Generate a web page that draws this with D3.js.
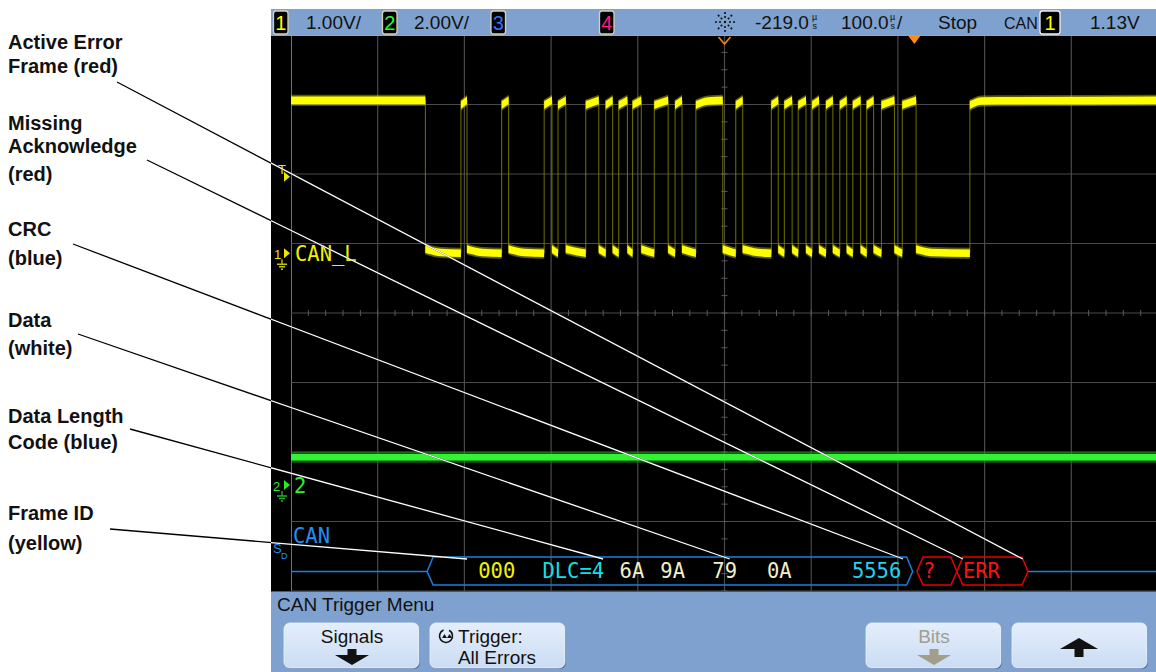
<!DOCTYPE html>
<html><head><meta charset="utf-8">
<script src="https://cdn.jsdelivr.net/npm/d3@7"></script>
<style>
html,body{margin:0;padding:0;background:#fff;}
svg{display:block;}
</style></head><body>
<svg id="c" width="1156" height="672"></svg>
<script>
// ================= DATA =================
const timeDomain = [-719, 281];          // µs (100 µs/div, delay -219 µs)
const timeDivs = d3.range(-719, 282, 100);
const vertDivs = d3.range(-4, 5, 1);
// channel 1 (CAN_L) transition times in µs, starting high
const ch1Edges = [-564,-523,-516,-476,-468,-427,-418,-411,-402,-379,-364,-356,-348,-341,-331,-325,-315,-300,-284,-276,-268,-252,-221,-206,-198,-165,-157,-150,-141,-134,-125,-118,-110,-102,-94,-86,-78,-71,-62,-55,-47,-38,-23,-14,2,64];
const ch1High = 2.2, ch1HighStart = 2.13, ch1Low = 0.0, ch1LowStart = 0.06;   // volts
const ch2Level = 0.8;                    // volts
const triggerLevel = 1.13;               // volts
const triggerTime = 0;                   // µs
const busIdle = [[-719, -562], [131, 281]];
const busFrames = [
  {start: -562, end: -2, type: 'frame'},
  {start: 3, end: 49, type: 'err'},
  {start: 49, end: 131, type: 'err'}
];
const busFields = [
  {t: -503, text: '000', type: 'id'},
  {t: -429, text: 'DLC=4', type: 'ctl'},
  {t: -340, text: '6A', type: 'data'},
  {t: -293, text: '9A', type: 'data'},
  {t: -233, text: '79', type: 'data'},
  {t: -170, text: '0A', type: 'data'},
  {t: -72, text: '5556', type: 'crc'},
  {t: 10, text: '?', type: 'err'},
  {t: 56, text: 'ERR', type: 'err'}
];
const calloutTexts = [
  ['Active Error', 'Frame (red)'],
  ['Missing', 'Acknowledge', '(red)'],
  ['CRC', '(blue)'],
  ['Data', '(white)'],
  ['Data Length', 'Code (blue)'],
  ['Frame ID', '(yellow)']
];
const calloutTargets = [125, 56, -13, -213, -359, -516];   // µs on the decode bus
const topBarTexts = ['1.00V/', '2.00V/', '-219.0', '100.0', 'Stop', 'CAN', '1.13V'];
const menuTitle = 'CAN Trigger Menu';
const softkeys = [['Signals'], ['Trigger:', 'All Errors'], ['Bits'], []];

// ================= LAYOUT / STYLE =================
const W = 1156, H = 672;
const scr = {x0: 271, gx0: 291, gx1: 1158, gy0: 35, gy1: 591};
const ch1Offset = 0.86, ch1Scale = 1.0;   // div, V/div
const ch2Offset = -2.475, ch2Scale = 2.0;
const calloutLayout = [
  {ys: [49, 73], from: [117, 82]},
  {ys: [130, 153, 181], from: [147, 160]},
  {ys: [236, 265], from: [73, 244]},
  {ys: [327, 355], from: [78, 334]},
  {ys: [423, 449], from: [130, 429]},
  {ys: [520, 550], from: [110, 529]}
];
const busY = {top: 557, mid: 571.5, bot: 585, slant: 6};
const fieldColor = {id: '#f2f200', ctl: '#10dfe6', data: '#f3efc6', crc: '#22d3ee', err: '#ff1010'};
const busColor = '#1a80dc', errColor = '#e80000';
const barFill = '#7fa1cf';
const sans = '"Liberation Sans", Arial, sans-serif';
const mono = '"DejaVu Sans Mono", monospace';

// ================= SCALES =================
const x = d3.scaleLinear().domain(timeDomain).range([scr.gx0, scr.gx1]);
const yDiv = d3.scaleLinear().domain([-4, 4]).range([scr.gy1, scr.gy0]);
const y1 = d3.scaleLinear().domain([(-4 - ch1Offset) * ch1Scale, (4 - ch1Offset) * ch1Scale]).range([scr.gy1, scr.gy0]);
const y2 = d3.scaleLinear().domain([(-4 - ch2Offset) * ch2Scale, (4 - ch2Offset) * ch2Scale]).range([scr.gy1, scr.gy0]);

const svg = d3.select('#c');
svg.append('rect').attr('width', W).attr('height', H).attr('fill', '#fff');

const defs = svg.append('defs');
defs.append('clipPath').attr('id', 'scrClip').append('rect')
  .attr('x', scr.x0).attr('y', scr.gy0).attr('width', W - scr.x0).attr('height', scr.gy1 - scr.gy0);
defs.append('clipPath').attr('id', 'gridClip').append('rect')
  .attr('x', scr.gx0).attr('y', scr.gy0).attr('width', W - scr.gx0).attr('height', scr.gy1 - scr.gy0);
const grad = defs.append('linearGradient').attr('id', 'btn').attr('x1', 0).attr('x2', 0).attr('y1', 0).attr('y2', 1);
grad.append('stop').attr('offset', '0%').attr('stop-color', '#e4eefb');
grad.append('stop').attr('offset', '100%').attr('stop-color', '#cadcf3');

// screen background
svg.append('rect').attr('x', scr.x0).attr('y', scr.gy0).attr('width', W - scr.x0).attr('height', scr.gy1 - scr.gy0).attr('fill', '#000');

// ---- grid ----
const grid = svg.append('g').attr('clip-path', 'url(#gridClip)');
grid.selectAll('.vg').data(timeDivs).join('line')
  .attr('x1', d => x(d)).attr('x2', d => x(d)).attr('y1', scr.gy0).attr('y2', scr.gy1)
  .attr('stroke', (d, i) => i === 0 ? '#bdbdbd' : '#4a4a4a').attr('stroke-width', 1.2);
grid.selectAll('.hg').data(vertDivs).join('line')
  .attr('x1', scr.gx0).attr('x2', W).attr('y1', d => yDiv(d)).attr('y2', d => yDiv(d))
  .attr('stroke', '#4a4a4a').attr('stroke-width', 1.2);
const tc = (timeDomain[0] + timeDomain[1]) / 2;
grid.selectAll('.ht').data(d3.range(timeDomain[0], timeDomain[1] + 1, 20)).join('line')
  .attr('x1', d => x(d)).attr('x2', d => x(d)).attr('y1', yDiv(0) - 3).attr('y2', yDiv(0) + 3)
  .attr('stroke', '#5a5a5a');
grid.selectAll('.vt').data(d3.range(-4, 4.01, 0.25)).join('line')
  .attr('x1', x(tc) - 3).attr('x2', x(tc) + 3).attr('y1', d => yDiv(d)).attr('y2', d => yDiv(d))
  .attr('stroke', '#5a5a5a');

// ---- channel 2 ----
const tr = svg.append('g').attr('clip-path', 'url(#gridClip)');
tr.append('line').attr('x1', x(timeDomain[0])).attr('x2', x(timeDomain[1]))
  .attr('y1', y2(ch2Level)).attr('y2', y2(ch2Level))
  .attr('stroke', '#1f8f1f').attr('stroke-width', 11).attr('opacity', 0.6);
tr.append('line').attr('x1', x(timeDomain[0])).attr('x2', x(timeDomain[1]))
  .attr('y1', y2(ch2Level)).attr('y2', y2(ch2Level))
  .attr('stroke', '#33f233').attr('stroke-width', 6.5);

// ---- channel 1 ----
const bounds = [timeDomain[0], ...ch1Edges, timeDomain[1]];
const segs = d3.range(bounds.length - 1).map(i => ({t0: bounds[i], t1: bounds[i + 1], high: i % 2 === 0, first: i === 0}));
const stepPts = [];
segs.forEach(s => { const v = s.high ? ch1High : ch1Low; stepPts.push([s.t0, v], [s.t1, v]); });
const lineLin = d3.line().x(d => x(d[0])).y(d => y1(d[1]));
tr.append('path').attr('d', lineLin(stepPts)).attr('fill', 'none')
  .attr('stroke', '#8c8c00').attr('stroke-width', 1).attr('opacity', 0.8);
function segPts(s) {
  if (s.first) return [[s.t0, ch1High], [s.t1, ch1High]];
  const len = s.t1 - s.t0;
  if (s.high) {
    const k = Math.min(14, len * 0.85);
    return [[s.t0, ch1HighStart], [s.t0 + k, ch1High - 0.01], [s.t1, ch1High]];
  }
  const k = Math.min(18, len * 0.8);
  return [[s.t0, ch1LowStart], [s.t0 + k, ch1Low + 0.01], [s.t1, ch1Low]];
}
const band = h => d3.area().x(d => x(d[0])).y0(d => y1(d[1]) + h).y1(d => y1(d[1]) - h).curve(d3.curveMonotoneX);
tr.selectAll('.s1f').data(segs).join('path').attr('d', s => band(5.5)(segPts(s)))
  .attr('fill', '#c8c800').attr('opacity', 0.45);
tr.selectAll('.s1').data(segs).join('path').attr('d', s => band(3.8)(segPts(s)))
  .attr('fill', '#ffff00');

// ---- decode bus ----
const bus = svg.append('g').attr('clip-path', 'url(#gridClip)');
busIdle.forEach(r => bus.append('line').attr('x1', x(r[0])).attr('x2', x(r[1]))
  .attr('y1', busY.mid).attr('y2', busY.mid).attr('stroke', busColor).attr('stroke-width', 1.5));
function hexPath(a, b) {
  const s = busY.slant;
  return `M${a},${busY.mid}L${a + s},${busY.top}L${b - s},${busY.top}L${b},${busY.mid}L${b - s},${busY.bot}L${a + s},${busY.bot}Z`;
}
bus.selectAll('.hx').data(busFrames).join('path').attr('d', d => hexPath(x(d.start), x(d.end)))
  .attr('fill', 'none').attr('stroke', d => d.type === 'err' ? errColor : busColor).attr('stroke-width', 1.5);
bus.selectAll('.ft').data(busFields).join('text').attr('x', d => x(d.t)).attr('y', 578)
  .attr('fill', d => fieldColor[d.type]).attr('font-family', mono).attr('font-size', 20.5).text(d => d.text);

// ---- left strip markers and channel labels ----
const mk = svg.append('g');
function tri(g, cx, cy, col) {
  g.append('path').attr('d', `M${cx},${cy - 5}L${cx + 6},${cy}L${cx},${cy + 5}Z`).attr('fill', col);
}
function ground(g, cx, cy, col) {
  g.append('path').attr('d', `M${cx},${cy}V${cy + 5}M${cx - 5},${cy + 5}H${cx + 5}M${cx - 3},${cy + 7.5}H${cx + 3}M${cx - 1},${cy + 10}H${cx + 1}`)
    .attr('stroke', col).attr('stroke-width', 1.3).attr('fill', 'none');
}
const yT = y1(triggerLevel);
mk.append('text').attr('x', 278).attr('y', yT - 1).attr('fill', '#e8e800').attr('font-family', sans).attr('font-size', 13).text('T');
tri(mk, 284, yT + 2, '#e8e800');
const yg1 = y1(0);
mk.append('text').attr('x', 274).attr('y', yg1 + 6).attr('fill', '#e8e800').attr('font-family', sans).attr('font-size', 13).text('1');
tri(mk, 284, yg1, '#e8e800');
ground(mk, 282, yg1 + 6, '#c8c800');
mk.append('text').attr('x', 295).attr('y', yg1 + 8).attr('fill', '#f0f000').attr('font-family', mono).attr('font-size', 20.5).text('CAN_L');
const yg2 = y2(0);
mk.append('text').attr('x', 273).attr('y', yg2 + 6).attr('fill', '#2ee82e').attr('font-family', sans).attr('font-size', 13).text('2');
tri(mk, 284, yg2, '#2ee82e');
ground(mk, 282, yg2 + 6, '#22b822');
mk.append('text').attr('x', 294).attr('y', yg2 + 8).attr('fill', '#30f030').attr('font-family', mono).attr('font-size', 20.5).text('2');
mk.append('text').attr('x', 273).attr('y', 553).attr('fill', '#2090f0').attr('font-family', sans).attr('font-size', 13).text('S');
mk.append('text').attr('x', 281).attr('y', 559).attr('fill', '#2090f0').attr('font-family', sans).attr('font-size', 9).text('D');
mk.append('text').attr('x', 293).attr('y', 543).attr('fill', '#2090f0').attr('font-family', mono).attr('font-size', 20.5).text('CAN');

// ---- top markers (delay & trigger position) ----
mk.append('path').attr('d', `M${x(tc) - 6},${scr.gy0 + 2}L${x(tc)},${scr.gy0 + 9}L${x(tc) + 6},${scr.gy0 + 2}`)
  .attr('fill', 'none').attr('stroke', '#f08a10').attr('stroke-width', 1.6);
mk.append('path').attr('d', `M${x(triggerTime) - 6},${scr.gy0 + 1}L${x(triggerTime)},${scr.gy0 + 9}L${x(triggerTime) + 6},${scr.gy0 + 1}Z`)
  .attr('fill', '#ff8c10');

// ---- top bar ----
const topBar = svg.append('g');
topBar.append('rect').attr('x', scr.x0).attr('y', 9).attr('width', W - scr.x0).attr('height', 26).attr('fill', barFill);
topBar.append('line').attr('x1', scr.x0).attr('x2', W).attr('y1', 35.5).attr('y2', 35.5).attr('stroke', '#9aa6b6').attr('stroke-width', 1);
function chBox(bx, w, label, col, border) {
  topBar.append('rect').attr('x', bx).attr('y', 11).attr('width', w).attr('height', 23).attr('rx', 2.5)
    .attr('fill', '#000').attr('stroke', border).attr('stroke-width', 1.3);
  topBar.append('text').attr('x', bx + w / 2).attr('y', 29.5).attr('text-anchor', 'middle').attr('fill', col)
    .attr('font-family', sans).attr('font-size', 20).text(label);
}
const tbText = (tx, s, size) => topBar.append('text').attr('x', tx).attr('y', 29).attr('fill', '#111')
  .attr('font-family', sans).attr('font-size', size || 19).text(s);
chBox(273.5, 14.5, '1', '#ffff00', '#d8d0b0');
tbText(306, topBarTexts[0]);
chBox(382.5, 14.5, '2', '#22ff22', '#d8d0b0');
tbText(414, topBarTexts[1]);
chBox(491, 14.5, '3', '#3a6cff', '#d8d0b0');
chBox(599.5, 14.5, '4', '#ff1a8c', '#d8d0b0');
const sun = topBar.append('g').attr('transform', 'translate(725,22)');
d3.range(8).forEach(i => {
  const a = i * Math.PI / 4;
  sun.append('line').attr('x1', Math.cos(a) * 4).attr('y1', Math.sin(a) * 4).attr('x2', Math.cos(a) * 10).attr('y2', Math.sin(a) * 10)
    .attr('stroke', '#111').attr('stroke-width', 1.6).attr('stroke-dasharray', '2,2');
});
sun.append('circle').attr('r', 1.2).attr('fill', '#111');
function micro(mx) {
  topBar.append('text').attr('x', mx).attr('y', 19.5).attr('fill', '#111').attr('font-family', sans).attr('font-size', 9).text('µ');
  topBar.append('text').attr('x', mx + 0.5).attr('y', 29).attr('fill', '#111').attr('font-family', sans).attr('font-size', 9).text('s');
}
tbText(755, topBarTexts[2]); micro(812);
tbText(841, topBarTexts[3]); micro(890);
tbText(897, '/');
tbText(938, topBarTexts[4]);
tbText(1004, topBarTexts[5], 16);
chBox(1040, 20, '1', '#ffff00', '#f0f0f0');
tbText(1090, topBarTexts[6]);

// ---- bottom menu ----
const menu = svg.append('g');
menu.append('rect').attr('x', scr.x0).attr('y', scr.gy1).attr('width', W - scr.x0).attr('height', H - scr.gy1).attr('fill', barFill);
menu.append('line').attr('x1', scr.x0).attr('x2', W).attr('y1', scr.gy1 + 0.5).attr('y2', scr.gy1 + 0.5).attr('stroke', '#555').attr('stroke-width', 1);
menu.append('text').attr('x', 277).attr('y', 611).attr('fill', '#111').attr('font-family', sans).attr('font-size', 19).text(menuTitle);
const btnX = [284, 430, 866, 1012], btnW = 136;
btnX.forEach((bx, i) => {
  menu.append('rect').attr('x', bx + 1).attr('y', 624).attr('width', btnW - 1).attr('height', 45).attr('rx', 6).attr('fill', '#4d6a96');
  menu.append('rect').attr('x', bx).attr('y', 623).attr('width', btnW - 1).attr('height', 45).attr('rx', 6)
    .attr('fill', 'url(#btn)').attr('stroke', '#eef4fc').attr('stroke-width', 0.8);
});
function downArrow(cx, ty, col) {
  menu.append('path').attr('d', `M${cx - 4.5},${ty}H${cx + 4.5}V${ty + 6}H${cx + 17}L${cx},${ty + 16}L${cx - 17},${ty + 6}H${cx - 4.5}Z`).attr('fill', col);
}
const mText = (tx, ty, s, col, anchor) => menu.append('text').attr('x', tx).attr('y', ty).attr('fill', col)
  .attr('text-anchor', anchor || 'middle').attr('font-family', sans).attr('font-size', 19).text(s);
mText(btnX[0] + 68, 643, softkeys[0][0], '#111');
downArrow(btnX[0] + 68, 649, '#111');
mText(458, 643, softkeys[1][0], '#111', 'start');
mText(497, 664, softkeys[1][1], '#111');
const kn = menu.append('g').attr('transform', 'translate(446,636)');
kn.append('path').attr('d', d3.arc()({innerRadius: 6.5, outerRadius: 6.5, startAngle: 0.5, endAngle: 5.9})).attr('fill', 'none').attr('stroke', '#111').attr('stroke-width', 1.6);
kn.append('path').attr('d', 'M-4,2L-1.5,-2L1,2Z M1,2L3.5,-2L6,2Z').attr('fill', '#111');
mText(btnX[2] + 68, 643, softkeys[2][0], '#a29e8c');
downArrow(btnX[2] + 68, 649, '#a29e8c');
const ux = btnX[3] + 67;
menu.append('path').attr('d', `M${ux},638L${ux + 19},649H${ux + 4.5}V657H${ux - 4.5}V649H${ux - 19}Z`).attr('fill', '#111');

// ---- callouts ----
const co = svg.append('g');
calloutTexts.forEach((lines, i) => {
  const L = calloutLayout[i];
  lines.forEach((s, j) => co.append('text').attr('x', 8).attr('y', L.ys[j]).attr('fill', '#111')
    .attr('font-family', sans).attr('font-weight', 'bold').attr('font-size', 20).text(s));
});
const cl = calloutTexts.map((d, i) => ({x1: calloutLayout[i].from[0], y1: calloutLayout[i].from[1], x2: x(calloutTargets[i]), y2: 559}));
co.selectAll('.cb').data(cl).join('line').attr('x1', d => d.x1).attr('y1', d => d.y1).attr('x2', d => d.x2).attr('y2', d => d.y2)
  .attr('stroke', '#000').attr('stroke-width', 1.3);
co.append('g').attr('clip-path', 'url(#scrClip)').selectAll('line').data(cl).join('line')
  .attr('x1', d => d.x1).attr('y1', d => d.y1).attr('x2', d => d.x2).attr('y2', d => d.y2)
  .attr('stroke', '#fff').attr('stroke-width', 1.3);
</script>
</body></html>
